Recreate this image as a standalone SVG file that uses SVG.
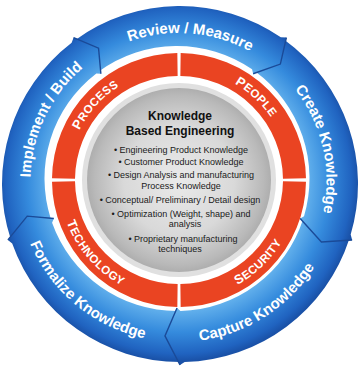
<svg xmlns="http://www.w3.org/2000/svg" xmlns:xlink="http://www.w3.org/1999/xlink" width="360" height="367" viewBox="0 0 360 367">
<style>
.seg{fill:url(#blueGrad)}
.chev{fill:none;stroke:#1a4a98;stroke-width:1.4;stroke-linejoin:miter}
.red{fill:none;stroke:#ea4422;stroke-width:23}
.bl{font-family:"Liberation Sans",Arial,sans-serif;font-weight:bold;font-size:15px;fill:#ffffff}
.rd{font-family:"Liberation Sans",Arial,sans-serif;font-weight:bold;font-size:11.5px;fill:#ffffff;letter-spacing:0.4px}
.big{font-size:13px}
.ttl{font-family:"Liberation Sans",Arial,sans-serif;font-weight:bold;font-size:12px;fill:#111111;text-anchor:middle}
.bul{font-family:"Liberation Sans",Arial,sans-serif;font-size:9px;fill:#1a1a1a;text-anchor:middle}
</style>
<defs>
<radialGradient id="blueGrad" gradientUnits="userSpaceOnUse" cx="178.5" cy="181" r="180">
<stop offset="0.72" stop-color="#62b0ec"/>
<stop offset="0.84" stop-color="#358bdd"/>
<stop offset="0.96" stop-color="#2063c0"/>
<stop offset="1" stop-color="#1a52a8"/>
</radialGradient>
<radialGradient id="grayGrad" cx="0.5" cy="0.5" r="0.5">
<stop offset="0" stop-color="#eaeaea"/>
<stop offset="0.6" stop-color="#d9d9d9"/>
<stop offset="0.92" stop-color="#b9b9b9"/>
<stop offset="1" stop-color="#aeaeae"/>
</radialGradient>
<path id="bt" d="M30.5,181 A148,148 0 0 1 326.5,181"/>
<path id="bb" d="M17.5,181 A161,161 0 0 0 339.5,181"/>
<path id="rt" d="M67.7,180 A111.3,111.3 0 0 1 290.3,180"/>
<path id="rb" d="M59,180 A120,120 0 0 0 299,180"/>
</defs>
<rect width="360" height="367" fill="#ffffff"/>

<g id="review-measure">
<path class="seg" d="M75.37,39.99 A178,178 0 0 1 280.82,37.30 L286.39,37.57 L280.35,64.08 L253.12,73.73 L252.05,69.30 A132.5,132.5 0 0 0 99.12,71.30 L98.54,48.17 Z"/>
<text class="bl" transform="rotate(4.7 178.5 181)"><textPath href="#bt" xlink:href="#bt" startOffset="50%" text-anchor="middle">Review / Measure</textPath></text>
</g>
<g id="create-knowledge">
<path class="seg" d="M284.63,39.99 A178,178 0 0 1 350.67,234.56 L352.14,239.93 L321.41,241.91 L300.16,218.52 L304.04,216.13 A132.5,132.5 0 0 0 254.88,71.30 L280.35,64.08 Z"/>
<text class="bl" transform="rotate(77 178.5 181)"><textPath href="#bt" xlink:href="#bt" startOffset="50%" text-anchor="middle">Create Knowledge</textPath></text>
</g>
<g id="capture-knowledge">
<path class="seg" d="M349.29,239.01 A178,178 0 0 1 184.66,361.94 L180,365 L164.97,335.91 L177,308 L180.47,310.95 A132.5,132.5 0 0 0 303.02,219.45 L321.41,241.91 Z"/>
<text class="bl" transform="rotate(-32.7 178.5 181)"><textPath href="#bb" xlink:href="#bb" startOffset="50%" text-anchor="middle">Capture Knowledge</textPath></text>
</g>
<g id="formalize-knowledge">
<path class="seg" d="M180,362 A178,178 0 0 1 12.21,243.42 L7.86,239.93 L27.23,216.17 L53.84,218.52 L52.10,222.73 A132.5,132.5 0 0 0 177,311 L164.97,335.91 Z"/>
<text class="bl" transform="rotate(39.7 178.5 181)"><textPath href="#bb" xlink:href="#bb" startOffset="50%" text-anchor="middle">Formalize Knowledge</textPath></text>
</g>
<g id="implement-build">
<path class="seg" d="M10.71,239.01 A178,178 0 0 1 71.64,42.78 L73.61,37.57 L98.54,48.17 L100.88,73.73 L96.34,73.38 A132.5,132.5 0 0 0 50.98,219.45 L27.23,216.17 Z"/>
<text class="bl" transform="rotate(-64.4 178.5 181)"><textPath href="#bt" xlink:href="#bt" startOffset="50%" text-anchor="middle">Implement / Build</textPath></text>
</g>

<g id="connectors">
<polyline class="chev" points="286.39,37.57 280.35,64.08 253.12,73.73"/>
<polyline class="chev" points="352.14,239.93 321.41,241.91 300.16,218.52"/>
<polyline class="chev" points="180,365 164.97,335.91 177,308"/>
<polyline class="chev" points="7.86,239.93 27.23,216.17 53.84,218.52"/>
<polyline class="chev" points="73.61,37.57 98.54,48.17 100.88,73.73"/>
</g>

<g id="people">
<path class="red" d="M180.51,64.51 A115.5,115.5 0 0 1 294.49,178.49"/>
<text class="rd" transform="rotate(43 179 180)"><textPath href="#rt" xlink:href="#rt" startOffset="50%" text-anchor="middle"><tspan class="big">P</tspan>EOPLE</textPath></text>
</g>
<g id="security">
<path class="red" d="M294.49,181.51 A115.5,115.5 0 0 1 180.51,295.49"/>
<text class="rd" transform="rotate(-44 179 180)"><textPath href="#rb" xlink:href="#rb" startOffset="50%" text-anchor="middle"><tspan class="big">S</tspan>ECURITY</textPath></text>
</g>
<g id="technology">
<path class="red" d="M177.49,295.49 A115.5,115.5 0 0 1 63.51,181.51"/>
<text class="rd" transform="rotate(49 179 180)"><textPath href="#rb" xlink:href="#rb" startOffset="50%" text-anchor="middle"><tspan class="big">T</tspan>ECHNOLOGY</textPath></text>
</g>
<g id="process">
<path class="red" d="M63.51,178.49 A115.5,115.5 0 0 1 177.49,64.51"/>
<text class="rd" transform="rotate(-48 179 180)"><textPath href="#rt" xlink:href="#rt" startOffset="50%" text-anchor="middle"><tspan class="big">P</tspan>ROCESS</textPath></text>
</g>

<g id="kbe-center">
<circle cx="179" cy="180" r="97" fill="#e0e0e0"/>
<circle cx="179" cy="180" r="92" fill="url(#grayGrad)"/>
<text class="ttl" x="180" y="120">Knowledge</text>
<text class="ttl" x="180" y="134.5">Based Engineering</text>
<text class="bul" x="181" y="152.5">• Engineering Product Knowledge</text>
<text class="bul" x="181" y="165">• Customer Product Knowledge</text>
<text class="bul" x="181" y="178">• Design Analysis and manufacturing</text>
<text class="bul" x="181" y="188.5">Process Knowledge</text>
<text class="bul" x="180" y="202.5">• Conceptual/ Preliminary / Detail design</text>
<text class="bul" x="181" y="216.5">• Optimization (Weight, shape) and</text>
<text class="bul" x="185" y="226.5">analysis</text>
<text class="bul" x="183" y="241.5">• Proprietary manufacturing</text>
<text class="bul" x="180" y="252">techniques</text>
</g>
</svg>
